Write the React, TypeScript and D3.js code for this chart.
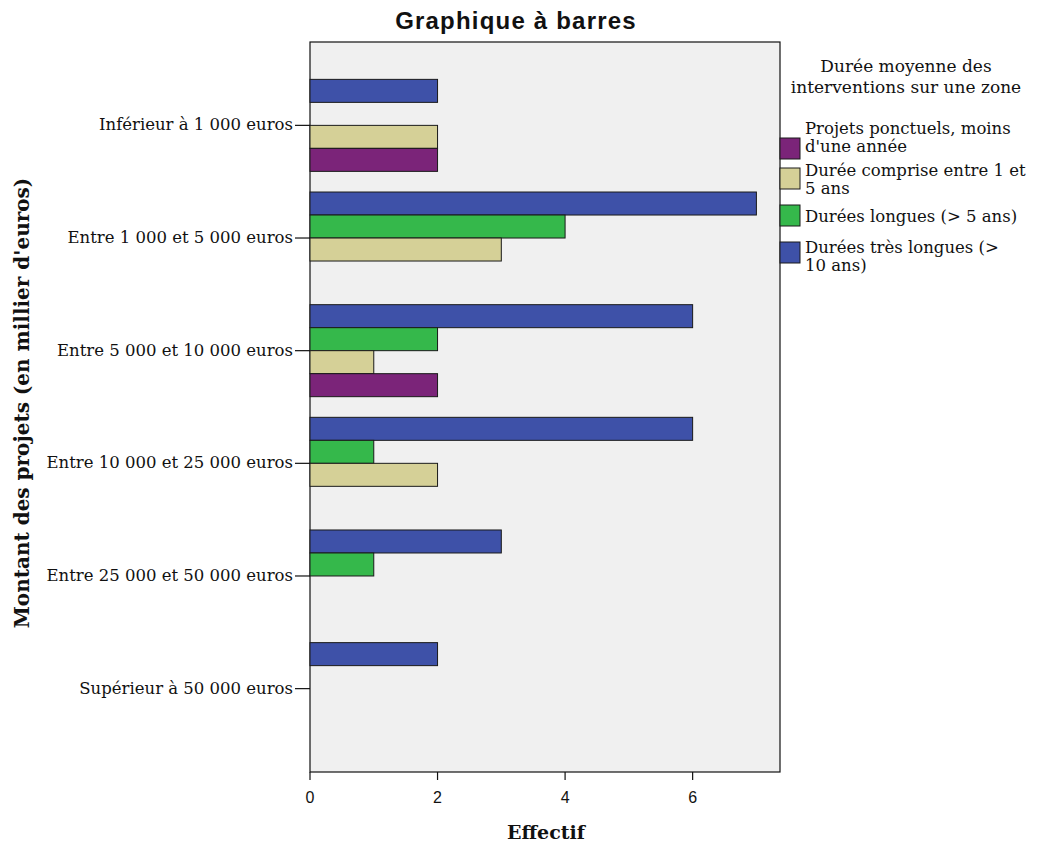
import React from "react";
import * as d3 from "d3";

const categories = [
  "Inférieur à 1 000 euros",
  "Entre 1 000 et 5 000 euros",
  "Entre 5 000 et 10 000 euros",
  "Entre 10 000 et 25 000 euros",
  "Entre 25 000 et 50 000 euros",
  "Supérieur à 50 000 euros",
];

const seriesKeys = ["tresLongues", "longues", "comprise", "ponctuels"];
const ponctuels = [2, 0, 2, 0, 0, 0];
const comprise = [2, 3, 1, 2, 0, 0];
const longues = [0, 4, 2, 1, 1, 0];
const tresLongues = [2, 7, 6, 6, 3, 2];
const seriesValues: Record<string, number[]> = { ponctuels, comprise, longues, tresLongues };

const seriesColors: Record<string, string> = {
  ponctuels: "#7b2479",
  comprise: "#d5d097",
  longues: "#35b84b",
  tresLongues: "#3e51a8",
};

const legendOrder = ["ponctuels", "comprise", "longues", "tresLongues"];
const legendLabels: Record<string, string[]> = {
  ponctuels: ["Projets ponctuels, moins", "d'une année"],
  comprise: ["Durée comprise entre 1 et", "5 ans"],
  longues: ["Durées longues (> 5 ans)"],
  tresLongues: ["Durées très longues (>", "10 ans)"],
};
const legendTitle = ["Durée moyenne des", "interventions sur une zone"];
const xTicks = [0, 2, 4, 6];

const W = 1040;
const H = 848;
const plot = { left: 310, right: 780, top: 42, bottom: 772 };

export default function App() {
  const x = d3.scaleLinear().domain([0, 7.37]).range([plot.left, plot.right]);
  const y = d3.scalePoint<string>().domain(categories).range([plot.top, plot.bottom]).padding(0.74);
  const sub = d3.scaleBand<string>().domain(seriesKeys).range([-46, 46]).paddingInner(0);

  const serif = "'DejaVu Serif', serif";
  const sans = "'Liberation Sans', Arial, sans-serif";

  const legendSwatchY: Record<string, number> = { ponctuels: 138, comprise: 168, longues: 205, tresLongues: 242 };
  const legendTextY: Record<string, number> = { ponctuels: 134, comprise: 176, longues: 222, tresLongues: 253 };

  return (
    <svg width={W} height={H} style={{ position: "absolute", left: 0, top: 0, background: "#fff" }}>
      <rect x={0} y={0} width={W} height={H} fill="#fff" />
      <text x={516} y={29} textAnchor="middle" fontFamily={sans} fontWeight="bold" fontSize={24} letterSpacing={1.2} fill="#111">
        Graphique à barres
      </text>
      <rect x={plot.left} y={plot.top} width={plot.right - plot.left} height={plot.bottom - plot.top} fill="#f0f0f0" stroke="#111" strokeWidth={1.2} />

      {categories.map((c, i) => (
        <g key={c}>
          {seriesKeys.map((k) => {
            const v = seriesValues[k][i];
            if (!v) return null;
            const yy = (y(c) as number) + (sub(k) as number);
            return (
              <rect key={k} x={x(0)} y={yy} width={x(v) - x(0)} height={sub.bandwidth()} fill={seriesColors[k]} stroke="#1a1a1a" strokeWidth={1} />
            );
          })}
        </g>
      ))}

      {categories.map((c) => (
        <g key={"t" + c}>
          <line x1={295} x2={plot.left} y1={y(c)} y2={y(c)} stroke="#111" strokeWidth={1.2} />
          <text x={293} y={(y(c) as number) + 5} textAnchor="end" fontFamily={serif} fontSize={16.5} fill="#111">
            {c}
          </text>
        </g>
      ))}

      {xTicks.map((t) => (
        <g key={"x" + t}>
          <line x1={x(t)} x2={x(t)} y1={plot.bottom} y2={plot.bottom + 8} stroke="#111" strokeWidth={1.2} />
          <text x={x(t)} y={803} textAnchor="middle" fontFamily={sans} fontSize={16} fill="#111">
            {t}
          </text>
        </g>
      ))}

      <text x={546} y={839} textAnchor="middle" fontFamily={serif} fontWeight="bold" fontSize={19} fill="#111">
        Effectif
      </text>
      <text transform={`translate(29,403) rotate(-90)`} textAnchor="middle" fontFamily={serif} fontWeight="bold" fontSize={20} fill="#111">
        Montant des projets (en millier d'euros)
      </text>

      {legendTitle.map((l, i) => (
        <text key={l} x={906} y={72 + i * 21} textAnchor="middle" fontFamily={serif} fontSize={17} fill="#111">
          {l}
        </text>
      ))}
      {legendOrder.map((k) => (
        <g key={"l" + k}>
          <rect x={780} y={legendSwatchY[k]} width={20} height={21} fill={seriesColors[k]} stroke="#1a1a1a" strokeWidth={1} />
          {legendLabels[k].map((line, j) => (
            <text key={line} x={805} y={legendTextY[k] + j * 18} fontFamily={serif} fontSize={16.5} fill="#111">
              {line}
            </text>
          ))}
        </g>
      ))}
    </svg>
  );
}
